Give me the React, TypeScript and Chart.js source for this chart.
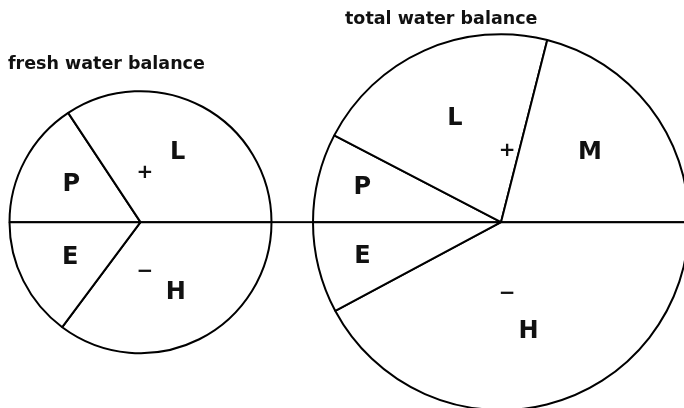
import React, { useEffect, useRef } from "react";
import { Chart, registerables } from "chart.js";

Chart.register(...registerables);

// ---- data (segment sizes in degrees, clockwise from 9 o'clock) ----
const freshTitle = "fresh water balance";
const freshLabels = ["P", "L", "H", "E"];
const freshAngles = [56.5, 123.5, 126.7, 53.3];

const totalTitle = "total water balance";
const totalLabels = ["P", "L", "M", "H", "E"];
const totalAngles = [27.5, 76.75, 75.75, 151.8, 28.2];

const halfSigns = ["+", "\u2212"];

const FONT = '"DejaVu Sans", sans-serif';

const balancePlugin = {
  id: "balance",
  afterDatasetsDraw(chart: any, _args: any, opts: any) {
    const arcs = chart.getDatasetMeta(0).data;
    if (!arcs.length) return;
    const { x, y, outerRadius: r } = arcs[0].getProps(["x", "y", "outerRadius"], true);
    const ctx = chart.ctx;
    ctx.save();
    ctx.strokeStyle = "#000";
    ctx.lineWidth = 2;
    ctx.beginPath();
    if (opts.connect === "right") {
      ctx.moveTo(x + r, y);
      ctx.lineTo(chart.width, y);
    } else if (opts.connect === "left") {
      ctx.moveTo(0, y);
      ctx.lineTo(x - r, y);
    }
    ctx.stroke();

    const labels = chart.data.labels as string[];
    ctx.fillStyle = "#111";
    ctx.textAlign = "center";
    ctx.textBaseline = "middle";
    ctx.font = `bold 24px ${FONT}`;
    arcs.forEach((arc: any, i: number) => {
      const p = arc.getProps(["startAngle", "endAngle"], true);
      const mid = (p.startAngle + p.endAngle) / 2;
      const span = p.endAngle - p.startAngle;
      const f = span < Math.PI / 4 ? 0.76 : 0.6;
      ctx.fillText(labels[i], x + Math.cos(mid) * r * f, y + Math.sin(mid) * r * f);
    });

    ctx.font = `bold 20px ${FONT}`;
    const sr = 0.38 * r;
    const a = (85 * Math.PI) / 180;
    ctx.fillText(halfSigns[0], x + Math.cos(-a) * sr, y + Math.sin(-a) * sr);
    ctx.fillText(halfSigns[1], x + Math.cos(a) * sr, y + Math.sin(a) * sr);
    ctx.restore();
  },
};

function makeConfig(
  title: string,
  labels: string[],
  values: number[],
  radius: number,
  padding: any,
  connect: string
): any {
  return {
    type: "pie",
    data: {
      labels,
      datasets: [
        {
          data: values,
          backgroundColor: "#fff",
          borderColor: "#000",
          borderWidth: 2,
        },
      ],
    },
    options: {
      responsive: false,
      animation: false,
      devicePixelRatio: 1,
      events: [],
      rotation: -90,
      radius,
      layout: { padding },
      plugins: {
        legend: { display: false },
        tooltip: { enabled: false },
        title: {
          display: true,
          text: title,
          align: "start",
          color: "#111",
          padding: 0,
          font: { family: FONT, size: 17.5, weight: "bold" },
        },
        balance: { connect },
      },
    },
    plugins: [balancePlugin],
  };
}

function PieCanvas(props: { config: any; left: number; width: number; height: number }) {
  const ref = useRef<HTMLCanvasElement>(null);
  useEffect(() => {
    if (!ref.current) return;
    const chart = new Chart(ref.current, props.config);
    return () => chart.destroy();
  }, []);
  return (
    <canvas
      ref={ref}
      width={props.width}
      height={props.height}
      style={{
        position: "absolute",
        left: props.left,
        top: 0,
        width: props.width,
        height: props.height,
      }}
    />
  );
}

export default function App() {
  const freshCfg = makeConfig(
    freshTitle,
    freshLabels,
    freshAngles,
    131,
    { left: 8, right: 28, top: 53.7, bottom: 38.4 },
    "right"
  );
  const totalCfg = makeConfig(
    totalTitle,
    totalLabels,
    totalAngles,
    188,
    { left: 44, right: 44, top: 9, bottom: 9.7 },
    "left"
  );
  return (
    <div
      style={{
        position: "absolute",
        left: 0,
        top: 0,
        width: 684,
        height: 408,
        overflow: "hidden",
        background: "#fff",
      }}
    >
      <PieCanvas config={freshCfg} left={0} width={301} height={408} />
      <PieCanvas config={totalCfg} left={301} width={400} height={424} />
    </div>
  );
}
